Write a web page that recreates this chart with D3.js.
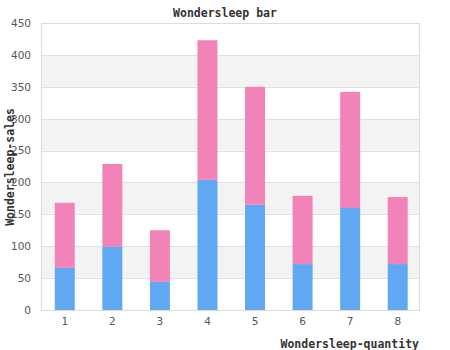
<!DOCTYPE html>
<html><head><meta charset="utf-8">
<script src="https://cdn.jsdelivr.net/npm/d3@7"></script>
<style>body{margin:0;background:#fff}svg{display:block}</style>
</head><body><svg id="c" width="450" height="350"></svg>
<script>
const categories = ["1","2","3","4","5","6","7","8"];
const seriesA = [66, 99, 44, 204, 165, 72, 160, 72];
const seriesB = [102, 130, 81, 219, 185, 107, 182, 105];
const yTicks = [0,50,100,150,200,250,300,350,400,450];

const svg = d3.select("#c");
const L = 41, R = 420, T = 23, B = 310;
const x = d3.scaleBand().domain(categories).range([L, 421.5]).paddingInner(0.58).paddingOuter(0.29);
const y = d3.scaleLinear().domain([0,450]).range([B, T]);

// alternating bands
const bands = [];
for (let i = 0; i < yTicks.length-1; i++) if (i % 2 === 1) bands.push([yTicks[i], yTicks[i+1]]);
svg.append("g").selectAll("rect").data(bands).join("rect")
  .attr("x", L).attr("width", R-L)
  .attr("y", d => y(d[1])).attr("height", d => y(d[0]) - y(d[1]))
  .attr("fill", "#f3f3f3");
svg.append("g").selectAll("line").data(yTicks).join("line")
  .attr("x1", L).attr("x2", R).attr("y1", d => Math.round(y(d))+0.5).attr("y2", d => Math.round(y(d))+0.5)
  .attr("stroke", "#e0e0e0").attr("stroke-width", 1);

const stack = categories.map((c,i) => ({c, a: seriesA[i], b: seriesB[i]}));
const g = svg.append("g");
g.selectAll("rect.a").data(stack).join("rect").attr("class","a")
  .attr("x", d => x(d.c)).attr("width", x.bandwidth())
  .attr("y", d => y(d.a)).attr("height", d => y(0) - y(d.a)).attr("fill", "#60a8f2");
g.selectAll("rect.b").data(stack).join("rect").attr("class","b")
  .attr("x", d => x(d.c)).attr("width", x.bandwidth())
  .attr("y", d => y(d.a + d.b)).attr("height", d => y(d.a) - y(d.a + d.b)).attr("fill", "#f283b9");

// frame
svg.append("rect").attr("x", L+0.5).attr("y", T+0.5).attr("width", R-L-1).attr("height", B-T)
  .attr("fill","none").attr("stroke","#dcdcdc");

// y axis
const ya = svg.append("g").attr("transform", `translate(${L},0)`)
  .call(d3.axisLeft(y).tickValues(yTicks).tickSize(0).tickPadding(10));
ya.select(".domain").remove();
ya.selectAll("text").attr("font-family","DejaVu Sans, sans-serif").attr("font-size","10.5px").attr("fill","#555");

// x axis
const xa = svg.append("g").attr("transform", `translate(0,${B})`)
  .call(d3.axisBottom(x).tickSize(0).tickPadding(8));
xa.select(".domain").remove();
xa.selectAll("text").attr("font-family","DejaVu Sans, sans-serif").attr("font-size","10.5px").attr("fill","#555");

const mono = "DejaVu Sans Mono, Liberation Mono, monospace";
svg.append("text").attr("x", 225).attr("y", 17).attr("text-anchor","middle")
  .attr("font-family", mono).attr("font-weight","bold").attr("font-size","11.5px").attr("fill","#333")
  .text("Wondersleep bar");
svg.append("text").attr("x", 419).attr("y", 348).attr("text-anchor","end")
  .attr("font-family", mono).attr("font-weight","bold").attr("font-size","11.5px").attr("fill","#333")
  .text("Wondersleep-quantity");
svg.append("text").attr("transform", "translate(14,167) rotate(-90)").attr("text-anchor","middle")
  .attr("font-family", mono).attr("font-weight","bold").attr("font-size","11.5px").attr("fill","#333")
  .text("Wondersleep-sales");
</script></body></html>
